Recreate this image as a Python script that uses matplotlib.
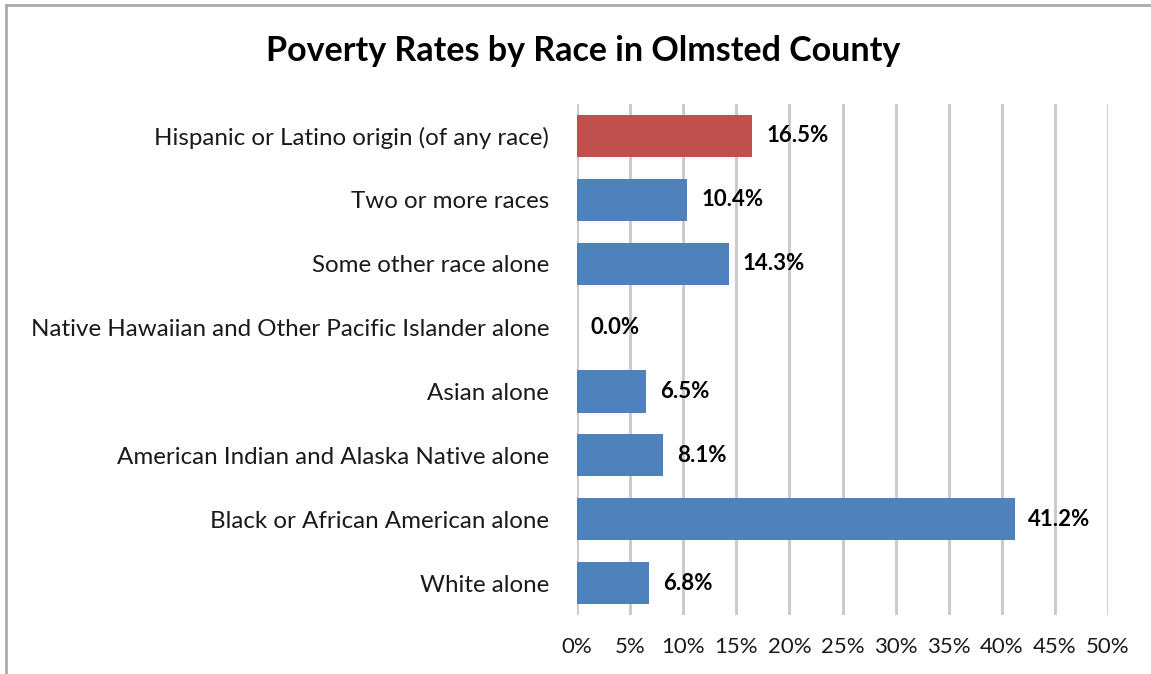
import matplotlib
matplotlib.use("Agg")
import matplotlib.pyplot as plt
from matplotlib.lines import Line2D
from matplotlib.ticker import FuncFormatter

plt.rcParams["font.family"] = ["Lato", "DejaVu Sans"]

# categories top to bottom as in the chart
categories = [
    "Hispanic or Latino origin (of any race)",
    "Two or more races",
    "Some other race alone",
    "Native Hawaiian and Other Pacific Islander alone",
    "Asian alone",
    "American Indian and Alaska Native alone",
    "Black or African American alone",
    "White alone",
]
rates = [16.5, 10.4, 14.3, 0.0, 6.5, 8.1, 41.2, 6.8]
bar_colors = ["#C0504D"] + ["#4F81BD"] * 7

fig = plt.figure(figsize=(11.51, 6.74), dpi=100)
ax = fig.add_axes([0.5013, 0.0875, 0.4614, 0.7582])

ypos = list(range(len(categories)))[::-1]
ax.barh(ypos, rates, height=0.66, color=bar_colors, zorder=3)

for y, v in zip(ypos, rates):
    ax.text(v + 1.3, y, f"{v:.1f}%", va="center", ha="left",
            fontsize=16, fontweight="bold", color="black", zorder=4)

ax.set_xlim(0, 50)
ax.set_ylim(-0.5, len(categories) - 0.5)
ax.set_xticks(range(0, 51, 5))
ax.xaxis.set_major_formatter(FuncFormatter(lambda x, p: f"{x:.0f}%"))
ax.set_yticks(ypos)
ax.set_yticklabels(categories)
ax.tick_params(axis="both", length=0, colors="#000000")
ax.tick_params(axis="x", pad=16, labelsize=16)
ax.tick_params(axis="y", pad=20, labelsize=17.4)
for lbl in ax.get_xticklabels() + ax.get_yticklabels():
    lbl.set_color("#1a1a1a")

ax.grid(axis="x", color="#C8C8C8", linewidth=2, zorder=0)
for s in ax.spines.values():
    s.set_visible(False)

fig.suptitle("Poverty Rates by Race in Olmsted County", x=0.507, y=0.948,
             fontsize=24.5, fontweight="bold")

# chart area border (left and top only visible)
fig.add_artist(Line2D([0.0055, 0.0055], [0.0, 0.9925], color="#ABABAB",
                      linewidth=2, transform=fig.transFigure))
fig.add_artist(Line2D([0.0055, 1.0], [0.9925, 0.9925], color="#ABABAB",
                      linewidth=2, transform=fig.transFigure))

fig.savefig("out.png", dpi=100, facecolor="white")
